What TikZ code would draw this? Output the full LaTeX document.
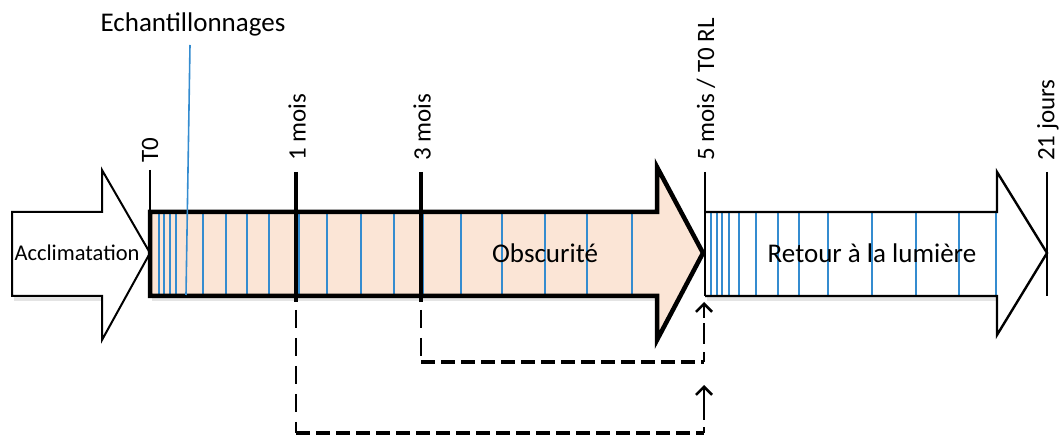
\documentclass[tikz,border=0pt]{standalone}
\usepackage{fontspec}
\setmainfont{Carlito}
\usetikzlibrary{arrows.meta}
\definecolor{peach}{RGB}{251,229,214}
\definecolor{sampleblue}{RGB}{52,140,208}
\tikzset{
  lbl/.style={font=\fontsize{27}{32}\selectfont, inner sep=0pt},
  rlbl/.style={font=\fontsize{25}{30}\selectfont, inner sep=0pt, rotate=90, anchor=west},
  thinmark/.style={line width=2pt},
  thickmark/.style={line width=3.5pt},
  sample/.style={sampleblue, line width=1.6pt},
  vdash/.style={line width=2.6pt, dash pattern=on 18pt off 10pt},
  hdash/.style={line width=3.6pt, dash pattern=on 14pt off 6pt},
  barb/.style={line width=2.6pt, -{Straight Barb[length=8pt,width=16pt]}},
  shade/.style={black!30, opacity=0.35}
}
\begin{document}
\begin{tikzpicture}[x=1pt,y=-1pt]
\useasboundingbox (0,0) rectangle (1061,443);

% ---------- shadows ----------
\fill[shade] (152,297) rectangle (659,301);
\fill[shade] (707,297) rectangle (999,301);
\fill[shade] (14,297) rectangle (102,301);

% ---------- Acclimatation arrow ----------
\draw[fill=white, line width=2pt, line join=miter]
  (12,212) -- (102,212) -- (102,170) -- (150,253) -- (102,340) -- (102,296) -- (12,296) -- cycle;
\node[lbl, font=\fontsize{22.5}{27}\selectfont] (accl) at (77,253) {Acclimatation};

% ---------- Obscurite arrow ----------
\fill[peach] (150,212) -- (657,212) -- (657,167) -- (703,253) -- (657,340) -- (657,296) -- (150,296) -- cycle;
\foreach \x in {159,164,170,176,203,226,247,269,299,327,361,394,423,461,502,545,587,632}
  \draw[sample] (\x,213) -- (\x,295);
\draw[line width=4.5pt, line join=miter]
  (150,212) -- (657,212) -- (657,167) -- (703,253) -- (657,340) -- (657,296) -- (150,296) -- cycle;
\node[lbl] (obsc) at (545,253) {Obscurité};

% ---------- Retour arrow ----------
\fill[white] (705,212) -- (997,212) -- (997,172) -- (1047,253) -- (997,335) -- (997,296) -- (705,296) -- cycle;
\foreach \x in {711,717,722,729,739,756,778,799,828,872,916,959,996}
  \draw[sample] (\x,213) -- (\x,295);
\draw[line width=2.4pt, line join=miter]
  (705,212) -- (997,212) -- (997,172) -- (1047,253) -- (997,335) -- (997,296) -- (705,296);
\node[lbl] (ret) at (872,253) {Retour à la lumière};

% ---------- time marks ----------
\coordinate (t0top) at (150,170);   \coordinate (t0bot) at (150,212);
\coordinate (m1top) at (296,172);   \coordinate (m1bot) at (296,302);
\coordinate (m3top) at (421,172);   \coordinate (m3bot) at (421,302);
\coordinate (m5top) at (705,172);   \coordinate (m5bot) at (705,296);
\coordinate (j21top) at (1047,172); \coordinate (j21bot) at (1047,296);

\draw[thinmark] (t0top) -- (t0bot);
\draw[thickmark] (m1top) -- (m1bot);
\draw[thickmark] (m3top) -- (m3bot);
\draw[thinmark] (m5top) -- (m5bot);
\draw[thinmark] (j21top) -- (j21bot);

\node[rlbl] (lt0) at (150,163) {T0};
\node[rlbl] (lm1) at (297,161) {1 mois};
\node[rlbl] (lm3) at (422,161) {3 mois};
\node[rlbl] (lm5) at (706,161) {5 mois / T0 RL};
\node[rlbl] (lj21) at (1048,161) {21 jours};

% ---------- Echantillonnages ----------
\node[lbl] (ech) at (193,24) {Echantillonnages};
\coordinate (echtop) at (190,45);
\coordinate (echbot) at (186,295);
\draw[sample] (echtop) -- (echbot);

% ---------- dashed returns ----------
\coordinate (d1a) at (296,310);
\coordinate (d1b) at (296,433);
\coordinate (d1c) at (704,433);
\coordinate (d1s) at (704,420);
\coordinate (d1tip) at (704,385);
\coordinate (d3a) at (421,310);
\coordinate (d3b) at (421,362);
\coordinate (d3c) at (704,362);
\coordinate (d3s) at (704,318);
\coordinate (d3tip) at (704,302);

\draw[vdash] (d1a) -- (d1b);
\draw[hdash] (d1b) -- (d1c);
\draw[line width=2.6pt] (d1c) -- (704,427);
\draw[barb] (d1s) -- (d1tip);
\draw[vdash] (d3a) -- (d3b);
\draw[hdash] (d3b) -- (d3c);
\draw[line width=2.6pt] (d3c) -- (704,352);
\draw[line width=2.6pt] (704,344) -- (704,323);
\draw[barb] (d3s) -- (d3tip);
\end{tikzpicture}
\end{document}
